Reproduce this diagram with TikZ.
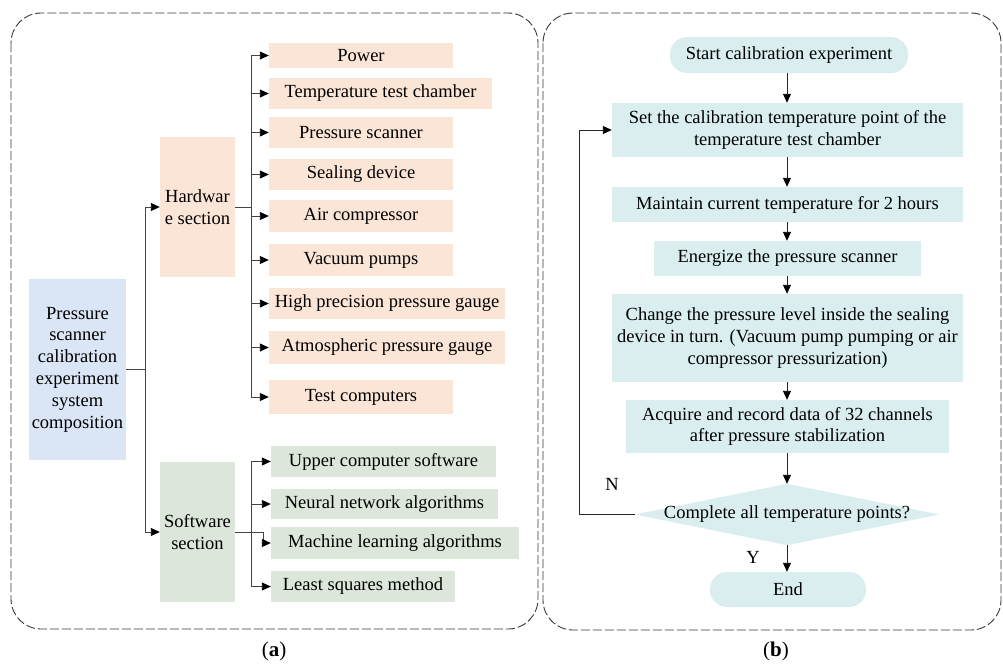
\documentclass[tikz,border=0pt]{standalone}
\usepackage{fontspec}
\setmainfont{Liberation Serif}
\usetikzlibrary{arrows.meta}
\definecolor{hwfill}{HTML}{FBE5D6}
\definecolor{swfill}{HTML}{DCE6DA}
\definecolor{rootfill}{HTML}{DAE6F5}
\definecolor{flowfill}{HTML}{DAEEF0}
\definecolor{linegray}{HTML}{454545}
\definecolor{panelgray}{HTML}{383838}
\begin{document}
\begin{tikzpicture}[x=1pt,y={(0pt,-1pt)},
  every node/.style={font=\fontsize{18.5}{21.8}\selectfont, inner sep=0pt, align=center},
  hwbox/.style={fill=hwfill},
  swbox/.style={fill=swfill},
  rootbox/.style={fill=rootfill},
  flowbox/.style={fill=flowfill},
  pill/.style={fill=flowfill, rounded corners=17pt},
  caption/.style={font=\fontsize{21}{24}\selectfont},
  conn/.style={draw=linegray, line width=0.9pt, -{Triangle[length=9pt,width=8pt,fill=black,color=black]}},
  connplain/.style={draw=linegray, line width=0.9pt},
  fconn/.style={draw=black!85, line width=0.9pt, -{Triangle[length=9pt,width=8pt,fill=black,color=black]}},
  panel/.style={draw=panelgray, line width=0.9pt, dash pattern=on 9pt off 3pt, rounded corners=30pt}
]
\useasboundingbox (0,0) rectangle (1003,664);
% panels
\draw[panel] (11,13) rectangle (538,629);
\draw[panel] (543,13) rectangle (1001,630);

% ---- panel (a) ----
\node[rootbox, minimum width=97, minimum height=181] (root) at (77.5,369.5) {Pressure\\scanner\\calibration\\experiment\\system\\composition};
\node[hwbox, minimum width=75, minimum height=140] (hw) at (197.5,207) {Hardwar\\e section};
\node[swbox, minimum width=75, minimum height=140] (sw) at (197.5,532) {Software\\section};

\node[hwbox, minimum width=184, minimum height=25] (power) at (361,55.5) {Power};
\node[hwbox, minimum width=223, minimum height=31] (temp) at (380.5,93.5) {Temperature test chamber};
\node[hwbox, minimum width=184, minimum height=31] (pscan) at (361,132.5) {Pressure scanner};
\node[hwbox, minimum width=184, minimum height=31] (seal) at (361,174.5) {Sealing device};
\node[hwbox, minimum width=184, minimum height=32] (air) at (361,216) {Air compressor};
\node[hwbox, minimum width=184, minimum height=32] (vac) at (361,260) {Vacuum pumps};
\node[hwbox, minimum width=236, minimum height=31] (high) at (387,303.5) {High precision pressure gauge};
\node[hwbox, minimum width=236, minimum height=33] (atm) at (387,347.5) {Atmospheric pressure gauge};
\node[hwbox, minimum width=184, minimum height=34] (test) at (361,397) {Test computers};

\node[swbox, minimum width=225, minimum height=31] (upper) at (383.5,461.5) {Upper computer software};
\node[swbox, minimum width=227, minimum height=30] (neural) at (384.5,504) {Neural network algorithms};
\node[swbox, minimum width=248, minimum height=32] (mach) at (395,543) {Machine learning algorithms};
\node[swbox, minimum width=184, minimum height=31] (least) at (363,586.5) {Least squares method};

\coordinate (rootbus) at (145,369.5);
\coordinate (hwbus) at (251,207);
\coordinate (swbus) at (251,532);
\coordinate (swjog) at (263,532);

% root -> sections
\draw[connplain] (root.east |- rootbus) -- (rootbus);
\draw[conn] (rootbus) |- (hw.west);
\draw[conn] (rootbus) |- (sw.west);

% hardware bus
\draw[connplain] (hw.east) -- (hwbus);
\draw[connplain] (hwbus |- power.west) -- (hwbus |- test.west);
\foreach \n in {power,temp,pscan,seal,air,vac,high,atm,test}
  \draw[conn] (hwbus |- \n.west) -- (\n.west);

% software bus
\draw[connplain] (sw.east) -- (swjog);
\draw[connplain] (swbus |- upper.west) -- (swbus |- least.west);
\foreach \n in {upper,neural,least}
  \draw[conn] (swbus |- \n.west) -- (\n.west);
\draw[conn] (swjog) |- (mach.west);

\node[caption] (capa) at (274,651) {(\textbf{a})};

% ---- panel (b) ----
\node[pill, minimum width=238, minimum height=36] (start) at (789,55) {Start calibration experiment};
\node[flowbox, minimum width=351, minimum height=54] (set) at (787.5,130) {Set the calibration temperature point of the\\temperature test chamber};
\node[flowbox, minimum width=351, minimum height=35] (maint) at (787.5,204.5) {Maintain current temperature for 2 hours};
\node[flowbox, minimum width=267, minimum height=35] (energ) at (787.5,258.5) {Energize the pressure scanner};
\node[flowbox, minimum width=351, minimum height=88] (change) at (787.5,338) {Change the pressure level inside the sealing\\device in turn. (Vacuum pump pumping or air\\compressor pressurization)};
\node[flowbox, minimum width=323, minimum height=53] (acq) at (787.5,426.5) {Acquire and record data of 32 channels\\after pressure stabilization};
\node[minimum width=304, minimum height=61] (dec) at (787,514.5) {};
\fill[flowfill] (dec.west) -- (dec.north) -- (dec.east) -- (dec.south) -- cycle;
\node (dectext) at (dec.center) {Complete all temperature points?};
\node[pill, minimum width=156, minimum height=35] (end) at (788,589.5) {End};

\draw[fconn] (start.south -| 787,0) -- (set.north -| 787,0);
\draw[fconn] (set.south -| 787,0) -- (maint.north -| 787,0);
\draw[fconn] (maint.south -| 787,0) -- (energ.north -| 787,0);
\draw[fconn] (energ.south -| 787,0) -- (change.north -| 787,0);
\draw[fconn] (change.south -| 787,0) -- (acq.north -| 787,0);
\draw[fconn] (acq.south -| 787,0) -- (dec.north);
\draw[fconn] (dec.south) -- (end.north -| 787,0);
\coordinate (loop) at (579,514.5);
\draw[fconn] (dec.west) -- (loop) |- (set.west);

\node (N) at (612,484) {N};
\node (Y) at (753,557) {Y};

\node[caption] (capb) at (776,651) {(\textbf{b})};
\end{tikzpicture}
\end{document}
